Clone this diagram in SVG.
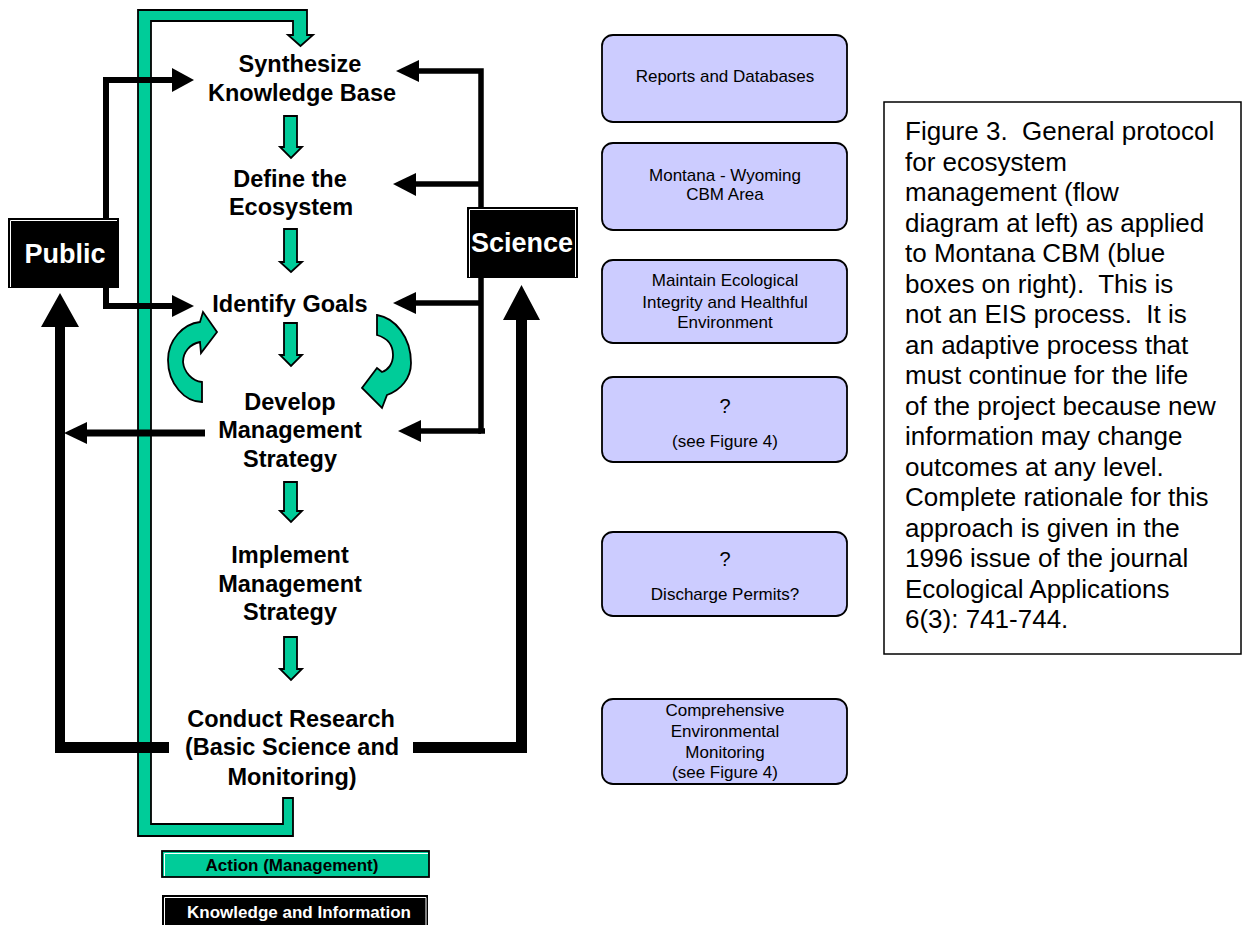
<svg xmlns="http://www.w3.org/2000/svg" width="1244" height="925" viewBox="0 0 1244 925">
<style>
.t{font-family:"Liberation Sans",Arial,sans-serif;font-weight:bold;font-size:23.5px;fill:#000;text-anchor:middle}
.pb{font-family:"Liberation Sans",Arial,sans-serif;font-weight:bold;font-size:27px;fill:#fff;text-anchor:middle}
.bt{font-family:"Liberation Sans",Arial,sans-serif;font-size:17px;fill:#000;text-anchor:middle}
.cap{font-family:"Liberation Sans",Arial,sans-serif;font-size:26px;fill:#000}
.lg{font-family:"Liberation Sans",Arial,sans-serif;font-weight:bold;font-size:17px;text-anchor:middle}
.grn{fill:#00CC99;stroke:#000;stroke-width:1.8;stroke-linejoin:miter}
.blue{fill:#CCCCFF;stroke:#000;stroke-width:1.8}
.ln{fill:none;stroke:#000;stroke-linejoin:miter}
.hd{fill:#000}
</style>

<g id="action-loop">
<path class="grn" d="M283 798 L293 798 L293 836 L138 836 L138 10 L307 10 L307 35 L313 35 L300.5 46 L288 35 L293 35 L293 21 L151 21 L151 824 L283 824 Z"/>
</g>

<g id="connectors">
<!-- Public to Synthesize -->
<polyline class="ln" stroke-width="6" points="106,218 106,80 174,80"/>
<polygon class="hd" points="172,68 194,80 172,92"/>
<!-- Public to Identify Goals -->
<polyline class="ln" stroke-width="6" points="106,288 106,306 174,306"/>
<polygon class="hd" points="172,295 194,306 172,317"/>
<!-- Develop Management to Public line -->
<line class="ln" stroke-width="7" x1="205" y1="433" x2="85" y2="433"/>
<polygon class="hd" points="87,422 64,433 87,444"/>
<!-- Research to Public -->
<path class="hd" d="M55 753 L55 327 L41 327 L60 293 L79 327 L65 327 L65 742 L169 742 L169 753 Z"/>
<!-- Research to Science -->
<path class="hd" d="M413 742 L516 742 L516 320 L503 320 L521.5 285 L540 320 L527 320 L527 753 L413 753 Z"/>
<!-- Science vertical bus -->
<polyline class="ln" stroke-width="5.5" points="417,71 481,71 481,431 485,431"/>
<line class="ln" stroke-width="5.5" x1="481" y1="184" x2="414" y2="184"/>
<line class="ln" stroke-width="5.5" x1="481" y1="303" x2="414" y2="303"/>
<line class="ln" stroke-width="5.5" x1="481" y1="431" x2="419" y2="431"/>
<polygon class="hd" points="419,60 396,71 419,82"/>
<polygon class="hd" points="416,173 393,184 416,196"/>
<polygon class="hd" points="416,292 393,303 416,314"/>
<polygon class="hd" points="421,420 398,431 421,442"/>
<!-- green step arrows -->
<polygon class="grn" points="284,116 297,116 297,147 302,147 291,158 280,147 284,147"/>
<polygon class="grn" points="284,229 297,229 297,262 302,262 291,272 280,262 284,262"/>
<polygon class="grn" points="284,323 297,323 297,355 302,355 291,366 280,355 284,355"/>
<polygon class="grn" points="284,482 297,482 297,511 302,511 291,522 280,511 284,511"/>
<polygon class="grn" points="284,637 297,637 297,669 302,669 291,680 280,669 284,669"/>
<!-- curved cycle arrows -->
<path class="grn" d="M202 402 L202 382 C192 381 184 372 183 362 C183 352 190 344 200 342 L201 353 L217 332 L203 312 L200 322 C183 324 168 340 168 360 C168 384 185 402 202 402 Z"/>
<path class="grn" d="M377 315 L377 335 C387 338 393 345 393 355 C393 364 388 370 382 372 L377 368 L362 388 L382 408 L387 395 C401 390 411 378 411 363 C411 337 395 318 377 315 Z"/>
</g>

<g id="public">
<rect x="8" y="218" width="111" height="70" fill="#000"/>
<polyline points="10.5,287 10.5,220.5 117,220.5" fill="none" stroke="#fff" stroke-width="1"/>
<text class="pb" x="65" y="263">Public</text>
</g>

<g id="science">
<rect x="467" y="207" width="111" height="71" fill="#000"/>
<polyline points="469.5,277 469.5,209.5 575.5,209.5 575.5,277" fill="none" stroke="#fff" stroke-width="1"/>
<text class="pb" x="522" y="252">Science</text>
</g>

<g id="synthesize"><text class="t" x="300" y="72">Synthesize</text><text class="t" x="302" y="101">Knowledge Base</text></g>
<g id="define"><text class="t" x="290" y="187">Define the</text><text class="t" x="291" y="215">Ecosystem</text></g>
<g id="goals"><text class="t" x="290" y="312">Identify Goals</text></g>
<g id="develop"><text class="t" x="290" y="410">Develop</text><text class="t" x="290" y="438">Management</text><text class="t" x="290" y="467">Strategy</text></g>
<g id="implement"><text class="t" x="290" y="563">Implement</text><text class="t" x="290" y="592">Management</text><text class="t" x="290" y="620">Strategy</text></g>
<g id="research"><text class="t" x="291" y="727">Conduct Research</text><text class="t" x="292" y="755">(Basic Science and</text><text class="t" x="292" y="785">Monitoring)</text></g>

<g id="box-reports"><rect class="blue" x="602" y="35" width="245" height="87" rx="11"/><text class="bt" x="725" y="82">Reports and Databases</text></g>
<g id="box-area"><rect class="blue" x="602" y="143" width="245" height="87" rx="11"/><text class="bt" x="725" y="181">Montana - Wyoming</text><text class="bt" x="725" y="200">CBM Area</text></g>
<g id="box-goals"><rect class="blue" x="602" y="260" width="245" height="83" rx="11"/><text class="bt" x="725" y="286">Maintain Ecological</text><text class="bt" x="725" y="308">Integrity and Healthful</text><text class="bt" x="725" y="328">Environment</text></g>
<g id="box-strategy"><rect class="blue" x="602" y="377" width="245" height="85" rx="11"/><text class="bt" x="725" y="413" style="font-size:20px">?</text><text class="bt" x="725" y="447">(see Figure 4)</text></g>
<g id="box-permits"><rect class="blue" x="602" y="532" width="245" height="84" rx="11"/><text class="bt" x="725" y="566" style="font-size:20px">?</text><text class="bt" x="725" y="600">Discharge Permits?</text></g>
<g id="box-monitoring"><rect class="blue" x="602" y="699" width="245" height="85" rx="11"/><text class="bt" x="725" y="716">Comprehensive</text><text class="bt" x="725" y="737">Environmental</text><text class="bt" x="725" y="758">Monitoring</text><text class="bt" x="725" y="778">(see Figure 4)</text></g>

<g id="caption">
<rect x="884" y="102" width="357" height="552" fill="#fff" stroke="#000" stroke-width="1.5"/>
<text class="cap" xml:space="preserve"><tspan x="905" y="140">Figure 3.  General protocol</tspan><tspan x="905" y="170.5">for ecosystem</tspan><tspan x="905" y="201">management (flow</tspan><tspan x="905" y="231.5">diagram at left) as applied</tspan><tspan x="905" y="262">to Montana CBM (blue</tspan><tspan x="905" y="292.5">boxes on right).  This is</tspan><tspan x="905" y="323">not an EIS process.  It is</tspan><tspan x="905" y="353.5">an adaptive process that</tspan><tspan x="905" y="384">must continue for the life</tspan><tspan x="905" y="414.5">of the project because new</tspan><tspan x="905" y="445">information may change</tspan><tspan x="905" y="475.5">outcomes at any level.</tspan><tspan x="905" y="506">Complete rationale for this</tspan><tspan x="905" y="536.5">approach is given in the</tspan><tspan x="905" y="567">1996 issue of the journal</tspan><tspan x="905" y="597.5">Ecological Applications</tspan><tspan x="905" y="628">6(3): 741-744.</tspan></text>
</g>

<g id="legend-action">
<rect x="162" y="851" width="267" height="26" fill="#00CC99" stroke="#000" stroke-width="1.8"/>
<polyline points="164.5,876 164.5,853.5 428,853.5" fill="none" stroke="#fff" stroke-width="1"/>
<text class="lg" x="292" y="871" fill="#000">Action (Management)</text>
</g>
<g id="legend-knowledge">
<rect x="162" y="895" width="266" height="32" fill="#000"/>
<polyline points="164.5,925 164.5,897.5 426,897.5 426,925" fill="none" stroke="#fff" stroke-width="1"/>
<text class="lg" x="299" y="918" fill="#fff">Knowledge and Information</text>
</g>
</svg>
